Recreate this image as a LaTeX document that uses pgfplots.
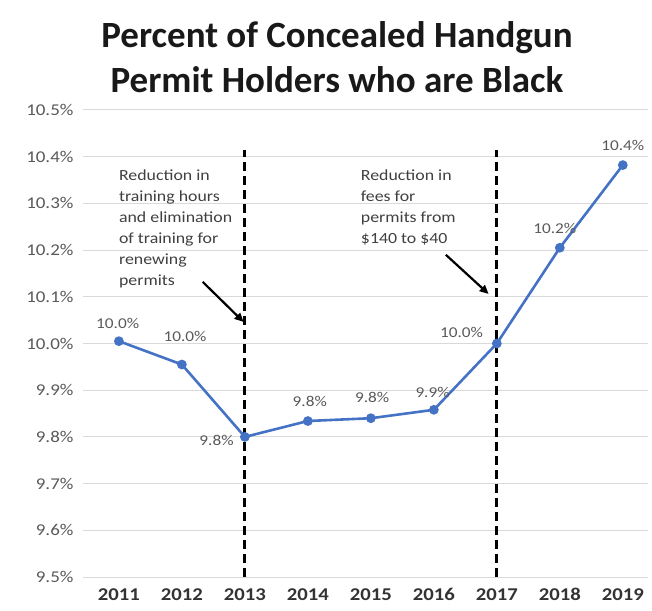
\documentclass[border=0pt]{standalone}
\usepackage{pgfplots}
\pgfplotsset{compat=1.18}
\usepackage{fontspec}
\usetikzlibrary{arrows.meta}
\setmainfont{Carlito}[FakeStretch=1.15]
\newfontfamily\titlefont{Carlito}

\definecolor{lineblue}{HTML}{4472C4}
\definecolor{gridgray}{HTML}{D9D9D9}
\definecolor{tickgray}{HTML}{595959}
\definecolor{labgray}{HTML}{404040}

\begin{document}
\begin{tikzpicture}
\begin{axis}[
    scale only axis,
    width=565pt, height=467pt,
    xmin=2010.43, xmax=2019.4,
    ymin=9.5, ymax=10.5,
    xtick={2011,2012,2013,2014,2015,2016,2017,2018,2019},
    ytick={9.5,9.6,9.7,9.8,9.9,10.0,10.1,10.2,10.3,10.4,10.5},
    /pgf/number format/assume math mode=true,
    x tick label style={/pgf/number format/1000 sep={}, font=\bfseries\fontsize{18}{18}\selectfont, text=black!80, yshift=-8pt},
    yticklabel={\pgfmathprintnumber[fixed,fixed zerofill,precision=1]{\tick}\%},
    y tick label style={font=\fontsize{16.5}{16.5}\selectfont, text=tickgray, xshift=-6pt},
    axis line style={draw=none},
    major tick length=0pt,
    ymajorgrids=true,
    grid style={gridgray, line width=1pt},
    clip=false,
]

% dashed event lines
\addplot[black, line width=3pt, dash pattern=on 9pt off 5pt] coordinates {(2013,9.5) (2013,10.415)};
\addplot[black, line width=3pt, dash pattern=on 9pt off 5pt] coordinates {(2017,9.5) (2017,10.415)};

\addplot[lineblue, line width=2.6pt, mark=*, mark size=3.5pt] coordinates {
(2011,10.005)
(2012,9.955)
(2013,9.800)
(2014,9.834)
(2015,9.840)
(2016,9.858)
(2017,10.000)
(2018,10.205)
(2019,10.382)
};

% data labels
\begin{scope}[every node/.style={font=\fontsize{15}{15}\selectfont, text=tickgray, inner sep=0pt}]
\node at (axis cs:2010.98,10.044) {10.0\%};
\node at (axis cs:2012.05,10.016) {10.0\%};
\node at (axis cs:2012.55,9.793) {9.8\%};
\node at (axis cs:2014.03,9.875) {9.8\%};
\node at (axis cs:2015.02,9.885) {9.8\%};
\node at (axis cs:2015.98,9.896) {9.9\%};
\node at (axis cs:2016.44,10.024) {10.0\%};
\node at (axis cs:2017.92,10.247) {10.2\%};
\node at (axis cs:2019.0,10.425) {10.4\%};
\end{scope}

% annotations
\node[anchor=north west, align=left, inner sep=0pt, text=labgray, font=\fontsize{15.5}{21}\selectfont]
  at (axis cs:2011.0,10.372) {Reduction in\\training hours\\and elimination\\of training for\\renewing\\permits};
\node[anchor=north west, align=left, inner sep=0pt, text=labgray, font=\fontsize{15.5}{21}\selectfont]
  at (axis cs:2014.84,10.372) {Reduction in\\fees for\\permits from\\\$140 to \$40};
\draw[-{Triangle[length=9pt,width=8pt]}, black, line width=2.2pt] (axis cs:2012.33,10.132) -- (axis cs:2012.98,10.046);
\draw[-{Triangle[length=9pt,width=8pt]}, black, line width=2.2pt] (axis cs:2016.19,10.19) -- (axis cs:2016.87,10.106);

% title
\node[align=center, font=\titlefont\bfseries\fontsize{37}{45}\selectfont, text=black!90]
  at (axis description cs:0.4496,1.1124) {Percent of Concealed Handgun\\Permit Holders who are Black};
\end{axis}
\pgfresetboundingbox
\useasboundingbox (-83pt,-33pt) rectangle (569pt,577pt);
\end{tikzpicture}
\end{document}
